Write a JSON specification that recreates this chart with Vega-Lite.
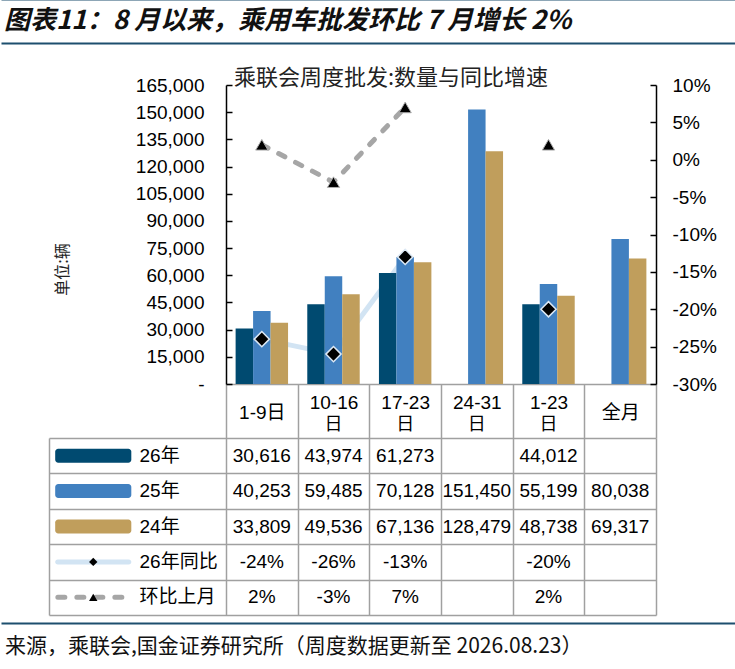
{
  "$schema": "https://vega.github.io/schema/vega-lite/v6.json",
  "padding": {"top": -2, "left": 0, "right": 0, "bottom": 0},
  "background": "white",
  "config": {
    "view": {"stroke": null},
    "font": "Liberation Sans, Noto Sans CJK SC",
    "locale": {"number": {"decimal": ".", "thousands": ",", "grouping": [3], "currency": ["", ""], "minus": "-"}}
  },
  "datasets": {
    "notes": [
      {"title": "图表11：8 月以来，乘用车批发环比 7 月增长 2%", "source": "来源，乘联会,国金证券研究所（周度数据更新至 2026.08.23）"}
    ],
    "sales": [
      {"period": "1-9日", "series": "26年", "units": 30616},
      {"period": "1-9日", "series": "25年", "units": 40253},
      {"period": "1-9日", "series": "24年", "units": 33809},
      {"period": "10-16日", "series": "26年", "units": 43974},
      {"period": "10-16日", "series": "25年", "units": 59485},
      {"period": "10-16日", "series": "24年", "units": 49536},
      {"period": "17-23日", "series": "26年", "units": 61273},
      {"period": "17-23日", "series": "25年", "units": 70128},
      {"period": "17-23日", "series": "24年", "units": 67136},
      {"period": "24-31日", "series": "25年", "units": 151450},
      {"period": "24-31日", "series": "24年", "units": 128479},
      {"period": "1-23日", "series": "26年", "units": 44012},
      {"period": "1-23日", "series": "25年", "units": 55199},
      {"period": "1-23日", "series": "24年", "units": 48738},
      {"period": "全月", "series": "25年", "units": 80038},
      {"period": "全月", "series": "24年", "units": 69317}
    ],
    "growth": [
      {"period": "1-9日", "series": "26年同比", "value": -0.24},
      {"period": "10-16日", "series": "26年同比", "value": -0.26},
      {"period": "17-23日", "series": "26年同比", "value": -0.13},
      {"period": "1-23日", "series": "26年同比", "value": -0.2},
      {"period": "1-9日", "series": "环比上月", "value": 0.02},
      {"period": "10-16日", "series": "环比上月", "value": -0.03},
      {"period": "17-23日", "series": "环比上月", "value": 0.07},
      {"period": "1-23日", "series": "环比上月", "value": 0.02}
    ],
    "rows": [
      {"series": "26年"},
      {"series": "25年"},
      {"series": "24年"},
      {"series": "26年同比"},
      {"series": "环比上月"}
    ]
  },
  "bounds": "flush",
  "spacing": 54,
  "vconcat": [
    {
      "width": 735,
      "height": 31,
      "data": {"name": "notes"},
      "mark": {"type": "text", "align": "left", "baseline": "middle", "dx": 3, "font": "Noto Sans CJK SC", "fontSize": 26, "fontWeight": "bold", "fontStyle": "italic", "color": "#111111"},
      "encoding": {
        "x": {"field": "title", "type": "nominal", "bandPosition": 0, "scale": {"type": "band", "paddingInner": 0, "paddingOuter": 0}, "axis": null},
        "y": {"field": "title", "type": "nominal", "scale": {"type": "band", "range": [-1, 43], "paddingInner": 0, "paddingOuter": 0},
              "axis": {"orient": "left", "domain": false, "labels": false, "grid": false, "title": null,
                       "ticks": true, "tickBand": "extent", "tickSize": -735, "tickColor": "#1d4f6e", "tickWidth": 2}},
        "text": {"field": "title"}
      }
    },
    {
      "width": 735,
      "height": 299,
      "title": {"text": "乘联会周度批发:数量与同比增速", "anchor": "start", "dx": 233, "offset": -14, "font": "Noto Sans CJK SC", "fontSize": 22, "fontWeight": "normal", "color": "#222222"},
      "encoding": {
        "x": {"field": "period", "type": "nominal",
              "scale": {"type": "band", "domain": ["1-9日", "10-16日", "17-23日", "24-31日", "1-23日", "全月"], "range": [225, 655], "paddingInner": 0, "paddingOuter": 0},
              "axis": {"orient": "bottom", "labelAngle": 0, "domainColor": "#a0a0a0", "domainWidth": 1.5, "tickBand": "extent", "tickSize": 54, "tickColor": "#a0a0a0", "tickWidth": 1.5,
                       "labelPadding": -26, "labelFontSize": 19, "labelColor": "#000000",
                       "labelBaseline": {"condition": {"test": "datum.label == '1-9日' || datum.label == '全月'", "value": "middle"}, "value": "bottom"},
                       "labelExpr": "datum.label == '1-9日' || datum.label == '全月' ? datum.label : replace(datum.label, '日', '')",
                       "grid": false, "title": null}}
      },
      "layer": [
        {
          "data": {"name": "growth"},
          "transform": [
            {"filter": {"field": "series", "equal": "26年同比"}},
            {"filter": {"field": "period", "oneOf": ["1-9日", "10-16日", "17-23日"]}}
          ],
          "mark": {"type": "line", "color": "#d2e4f3", "strokeWidth": 5, "strokeCap": "round"},
          "encoding": {
            "y": {"field": "value", "type": "quantitative", "scale": {"domain": [-0.3, 0.1], "nice": false, "zero": false}, "axis": null}
          }
        },
        {
          "data": {"name": "growth"},
          "transform": [
            {"filter": {"field": "series", "equal": "环比上月"}},
            {"filter": {"field": "period", "oneOf": ["1-9日", "10-16日", "17-23日"]}}
          ],
          "mark": {"type": "line", "color": "#a6a6a6", "strokeWidth": 5, "strokeDash": [7, 12], "strokeCap": "round"},
          "encoding": {
            "y": {"field": "value", "type": "quantitative", "scale": {"domain": [-0.3, 0.1], "nice": false, "zero": false}, "axis": null}
          }
        },
        {
          "data": {"name": "sales"},
          "mark": {"type": "bar"},
          "encoding": {
            "xOffset": {"field": "series", "type": "nominal", "scale": {"domain": ["26年", "25年", "24年"], "paddingInner": 0, "paddingOuter": 0.55}},
            "y": {"field": "units", "type": "quantitative", "scale": {"domain": [0, 165000], "nice": false},
                  "axis": {"orient": "left", "offset": -225, "values": [0, 15000, 30000, 45000, 60000, 75000, 90000, 105000, 120000, 135000, 150000, 165000],
                           "format": ",.0f", "labelExpr": "datum.value == 0 ? '-\u2002\u2002' : datum.label",
                           "domainColor": "#000000", "domainWidth": 1.5, "tickColor": "#000000", "tickWidth": 1.5, "tickSize": -6,
                           "labelPadding": 28, "labelFontSize": 19, "labelColor": "#000000", "grid": false,
                           "title": "单位:辆", "titleFont": "Noto Sans CJK SC", "titleFontSize": 16, "titleFontWeight": "normal", "titleColor": "#222222",
                           "titleAngle": 270, "titleX": -164, "titleY": 184, "titleAlign": "center", "titleBaseline": "middle"}},
            "color": {"field": "series", "type": "nominal", "scale": {"domain": ["26年", "25年", "24年"], "range": ["#004a70", "#4180c0", "#c09e5c"]}, "legend": null}
          }
        },
        {
          "data": {"name": "growth"},
          "transform": [{"filter": {"field": "series", "equal": "26年同比"}}],
          "mark": {"type": "point", "shape": "diamond", "filled": true, "size": 230, "color": "#000000", "stroke": "#dde9f5", "strokeWidth": 1.5, "opacity": 1},
          "encoding": {
            "y": {"field": "value", "type": "quantitative", "scale": {"domain": [-0.3, 0.1], "nice": false, "zero": false}, "axis": null}
          }
        },
        {
          "data": {"name": "growth"},
          "transform": [{"filter": {"field": "series", "equal": "环比上月"}}],
          "mark": {"type": "point", "shape": "triangle-up", "filled": true, "size": 150, "color": "#000000", "stroke": "#b0b0b0", "strokeWidth": 1, "opacity": 1},
          "encoding": {
            "y": {"field": "value", "type": "quantitative", "scale": {"domain": [-0.3, 0.1], "nice": false, "zero": false},
                  "axis": {"orient": "right", "offset": -80, "values": [-0.3, -0.25, -0.2, -0.15, -0.1, -0.05, 0, 0.05, 0.1], "format": ".0%",
                           "domainColor": "#000000", "domainWidth": 1.5, "tickColor": "#000000", "tickWidth": 1.5, "tickSize": -6,
                           "labelPadding": 22, "labelFontSize": 19, "labelColor": "#000000", "grid": false, "title": null}}
          }
        }
      ],
      "resolve": {"scale": {"y": "independent"}, "axis": {"y": "independent"}}
    },
    {
      "width": 735,
      "height": 177,
      "encoding": {
        "y": {"field": "series", "type": "nominal",
              "scale": {"type": "band", "domain": ["26年", "25年", "24年", "26年同比", "环比上月"], "paddingInner": 0, "paddingOuter": 0},
              "axis": {"orient": "left", "offset": -48, "domainColor": "#a0a0a0", "domainWidth": 1.5, "tickBand": "extent", "tickSize": -607,
                       "tickColor": "#a0a0a0", "tickWidth": 1.5, "labels": false, "grid": false, "title": null}}
      },
      "layer": [
        {
          "data": {"name": "sales"},
          "mark": {"type": "text", "fontSize": 19, "color": "#000000"},
          "encoding": {
            "x": {"field": "period", "type": "nominal",
                  "scale": {"type": "band", "domain": ["1-9日", "10-16日", "17-23日", "24-31日", "1-23日", "全月"], "range": [225, 655], "paddingInner": 0, "paddingOuter": 0},
                  "axis": {"orient": "bottom", "grid": true, "tickBand": "extent", "gridColor": "#a0a0a0", "gridWidth": 1.5, "domain": false, "ticks": false, "labels": false, "title": null}},
            "text": {"field": "units", "type": "quantitative", "format": ","}
          }
        },
        {
          "data": {"name": "growth"},
          "mark": {"type": "text", "fontSize": 19, "color": "#000000"},
          "encoding": {
            "x": {"field": "period", "type": "nominal",
                  "scale": {"type": "band", "domain": ["1-9日", "10-16日", "17-23日", "24-31日", "1-23日", "全月"], "range": [225, 655], "paddingInner": 0, "paddingOuter": 0},
                  "axis": {"orient": "top", "domain": false, "ticks": false, "grid": false, "title": null, "labelAngle": 0,
                           "labelPadding": 14, "labelBaseline": "middle", "labelFontSize": 18, "labelColor": "#000000",
                           "labelExpr": "datum.label == '1-9日' || datum.label == '全月' ? '' : '日'"}},
            "text": {"field": "value", "type": "quantitative", "format": ".0%"}
          }
        },
        {
          "data": {"name": "rows"},
          "transform": [{"filter": {"field": "series", "oneOf": ["26年", "25年", "24年"]}}],
          "mark": {"type": "bar", "width": {"band": 0.86}, "height": 14, "cornerRadius": 3},
          "encoding": {
            "x": {"datum": "图例", "type": "nominal", "scale": {"type": "band", "domain": ["图例", "名称"], "range": [48, 225], "paddingInner": 0, "paddingOuter": 0}, "axis": null},
            "color": {"field": "series", "type": "nominal", "scale": {"domain": ["26年", "25年", "24年"], "range": ["#004a70", "#4180c0", "#c09e5c"]}, "legend": null}
          }
        },
        {
          "data": {"name": "rows"},
          "transform": [{"filter": {"field": "series", "equal": "26年同比"}}],
          "mark": {"type": "bar", "width": {"band": 0.86}, "height": 5, "cornerRadius": 2.5, "color": "#d2e4f3"},
          "encoding": {
            "x": {"datum": "图例", "type": "nominal", "scale": {"type": "band", "domain": ["图例", "名称"], "range": [48, 225], "paddingInner": 0, "paddingOuter": 0}, "axis": null}
          }
        },
        {
          "data": {"name": "rows"},
          "transform": [{"filter": {"field": "series", "equal": "环比上月"}}],
          "mark": {"type": "rule", "color": "#a6a6a6", "strokeWidth": 5, "strokeDash": [7, 12], "strokeCap": "round"},
          "encoding": {
            "x": {"datum": "图例", "type": "nominal", "bandPosition": 0.1, "scale": {"type": "band", "domain": ["图例", "名称"], "range": [48, 225], "paddingInner": 0, "paddingOuter": 0}, "axis": null},
            "x2": {"datum": "图例", "bandPosition": 0.9}
          }
        },
        {
          "data": {"name": "rows"},
          "transform": [{"filter": {"field": "series", "equal": "26年同比"}}],
          "mark": {"type": "point", "shape": "diamond", "filled": true, "size": 70, "color": "#000000", "opacity": 1},
          "encoding": {
            "x": {"datum": "图例", "type": "nominal", "scale": {"type": "band", "domain": ["图例", "名称"], "range": [48, 225], "paddingInner": 0, "paddingOuter": 0}, "axis": null}
          }
        },
        {
          "data": {"name": "rows"},
          "transform": [{"filter": {"field": "series", "equal": "环比上月"}}],
          "mark": {"type": "point", "shape": "triangle-up", "filled": true, "size": 70, "color": "#000000", "opacity": 1},
          "encoding": {
            "x": {"datum": "图例", "type": "nominal", "scale": {"type": "band", "domain": ["图例", "名称"], "range": [48, 225], "paddingInner": 0, "paddingOuter": 0}, "axis": null}
          }
        },
        {
          "data": {"name": "rows"},
          "mark": {"type": "text", "align": "left", "dx": 2, "fontSize": 19, "color": "#000000"},
          "encoding": {
            "x": {"datum": "名称", "type": "nominal", "bandPosition": 0, "scale": {"type": "band", "domain": ["图例", "名称"], "range": [48, 225], "paddingInner": 0, "paddingOuter": 0}, "axis": null},
            "text": {"field": "series"}
          }
        }
      ],
      "resolve": {"scale": {"x": "independent"}, "axis": {"x": "independent"}}
    },
    {
      "width": 735,
      "height": 1,
      "data": {"name": "notes"},
      "mark": {"type": "text", "align": "left", "baseline": "middle", "dx": 4, "font": "Noto Sans CJK SC", "fontSize": 21, "color": "#111111"},
      "encoding": {
        "x": {"field": "source", "type": "nominal", "bandPosition": 0, "scale": {"type": "band", "paddingInner": 0, "paddingOuter": 0}, "axis": null},
        "y": {"field": "source", "type": "nominal", "scale": {"type": "band", "range": [-46, 1], "paddingInner": 0, "paddingOuter": 0},
              "axis": {"orient": "left", "domain": false, "labels": false, "grid": false, "title": null,
                       "ticks": true, "tickBand": "extent", "tickSize": -735, "tickColor": "#1d4f6e", "tickWidth": 2}},
        "text": {"field": "source"}
      }
    }
  ]
}
